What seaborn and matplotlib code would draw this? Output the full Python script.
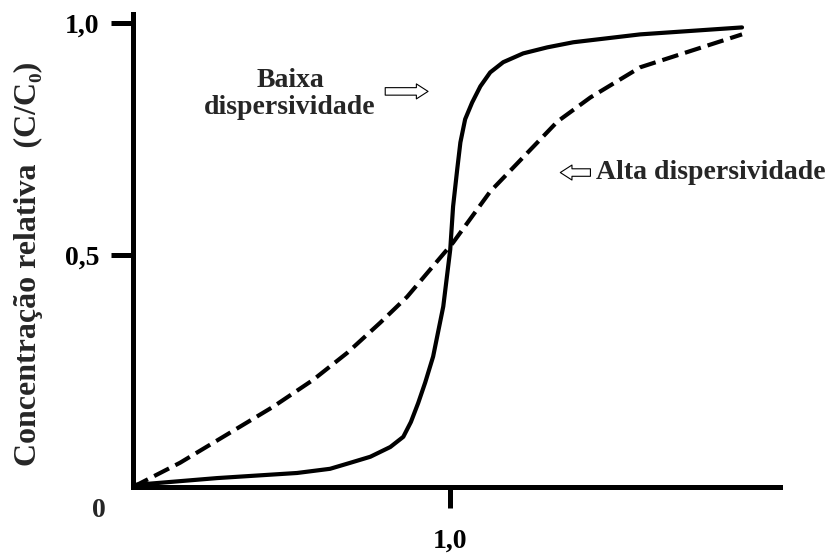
import matplotlib
matplotlib.use("Agg")
import matplotlib.pyplot as plt
import seaborn as sns
import pandas as pd

# --- data ---
low_x = [0.0, 0.265, 0.517, 0.621, 0.685, 0.748, 0.811, 0.852, 0.876, 0.899,
         0.921, 0.946, 0.978, 1.0, 1.009, 1.022, 1.032, 1.047, 1.069, 1.095,
         1.126, 1.167, 1.230, 1.306, 1.388, 1.599, 1.920]
low_y = [0.004, 0.019, 0.030, 0.039, 0.052, 0.065, 0.086, 0.108, 0.140, 0.181,
         0.225, 0.281, 0.389, 0.512, 0.605, 0.685, 0.743, 0.793, 0.829, 0.864,
         0.894, 0.916, 0.935, 0.948, 0.959, 0.976, 0.991]
high_x = [0.0, 0.148, 0.306, 0.442, 0.568, 0.675, 0.779, 0.864, 0.937,
          1.009, 1.126, 1.230, 1.338, 1.442, 1.599, 1.757, 1.920]
high_y = [0.0, 0.052, 0.117, 0.173, 0.231, 0.289, 0.354, 0.410, 0.469,
          0.527, 0.637, 0.711, 0.788, 0.840, 0.905, 0.940, 0.976]
y_ticks = [0.5, 1.0]
y_tick_labels = ["0,5", "1,0"]
x_ticks = [1.0]
x_tick_labels = ["1,0"]
origin_label = "0"
y_label = "Concentração relativa  (C/C₀)"
label_low = "Baixa\ndispersividade"
label_high = "Alta dispersividade"

sns.set_theme(style="white")
serif = ["Liberation Serif", "DejaVu Serif"]
plt.rcParams["font.family"] = serif

df_low = pd.DataFrame({"x": low_x, "y": low_y})
df_high = pd.DataFrame({"x": high_x, "y": high_y})

fig = plt.figure(figsize=(8.37, 5.59), dpi=100)
ax = fig.add_axes([0.159, 0.129, 0.773, 0.846])

sns.lineplot(data=df_low, x="x", y="y", ax=ax, color="black", lw=3, sort=False)
sns.lineplot(data=df_high, x="x", y="y", ax=ax, color="black", lw=3, sort=False,
             linestyle=(0, (4, 1.7)))

ax.set_xlim(0, 2.04)
ax.set_ylim(0, 1.02)
for s in ["top", "right"]:
    ax.spines[s].set_visible(False)
for s in ["left", "bottom"]:
    ax.spines[s].set_linewidth(3.6)
    ax.spines[s].set_color("black")

ax.set_yticks(y_ticks)
ax.set_yticklabels(y_tick_labels, fontsize=20, fontweight="bold")
ax.set_xticks(x_ticks)
ax.set_xticklabels(x_tick_labels, fontsize=20, fontweight="bold")
ax.tick_params(axis="y", direction="out", length=16, width=3.6, pad=8, left=True, colors="black")
ax.tick_params(axis="x", direction="out", length=15, width=3.6, pad=15, bottom=True, colors="black")

ax.set_xlabel("")
ax.set_ylabel("")
fig.text(28 / 837, 1 - 264 / 559, y_label, fontsize=23, fontweight="bold",
         rotation=90, ha="center", va="center")

ax.text(-0.107, -0.052, origin_label, fontsize=20, fontweight="bold",
        ha="center", va="center", clip_on=False)

ax.text(0.495, 0.848, label_low, fontsize=20, fontweight="bold",
        ha="center", va="center", linespacing=1.1)
ax.text(1.46, 0.678, label_high, fontsize=20, fontweight="bold",
        ha="left", va="center")

arrow_props = dict(arrowstyle="simple,head_width=0.9,head_length=0.7,tail_width=0.45",
                   facecolor="white", edgecolor="black", lw=0.8, shrinkA=0, shrinkB=0)
ax.annotate("", xy=(0.93, 0.853), xytext=(0.795, 0.853), arrowprops=arrow_props)
ax.annotate("", xy=(1.347, 0.678), xytext=(1.442, 0.678), arrowprops=arrow_props)

fig.savefig("out.png", dpi=100)
